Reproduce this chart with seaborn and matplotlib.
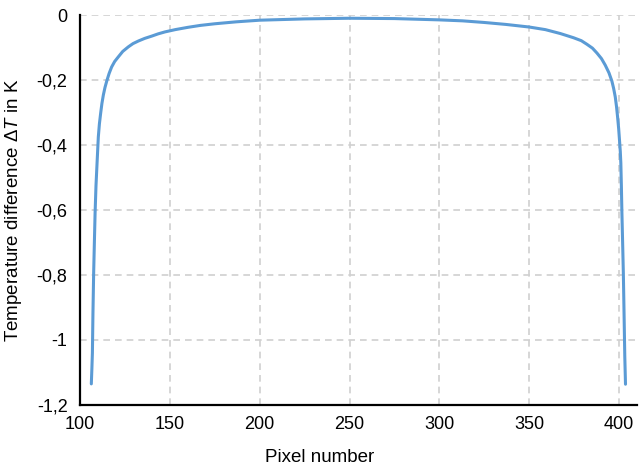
import matplotlib
matplotlib.use("Agg")
import matplotlib.pyplot as plt
import seaborn as sns
import pandas as pd
from matplotlib.ticker import FuncFormatter

# Data
pixel = [106.3, 106.6, 106.9, 107.2, 107.6, 108.0, 108.4, 108.9, 109.5, 110.2, 110.8,
         111.5, 112.2, 113.0, 113.9, 114.9, 116.2, 117.6, 119.3,
         121.3, 123.8, 126.9, 129.5, 132.5, 136.0, 139.9, 143.5, 147.3, 153, 160, 167, 175,
         187, 200, 225, 250,
         275, 300, 313, 325, 337, 350, 359, 367.3, 374.7, 379, 382.1, 385.2, 387.7, 390.2, 392.3,
         394.4, 396.0, 397.0, 397.9, 398.6, 399.2, 399.8, 400.3, 400.7, 401.0, 401.3, 401.6,
         402.0, 402.4, 402.8, 403.2, 403.6]
delta_t = [-1.135, -1.09, -1.04, -0.92, -0.794, -0.70, -0.609, -0.525, -0.455, -0.375, -0.335,
           -0.302, -0.272, -0.246, -0.223, -0.203, -0.180, -0.160, -0.143,
           -0.129, -0.112, -0.098, -0.088, -0.080, -0.072, -0.065, -0.058, -0.052, -0.045,
           -0.038, -0.032, -0.027,
           -0.021, -0.016, -0.012, -0.010,
           -0.011, -0.015, -0.018, -0.023, -0.029, -0.037, -0.045, -0.057, -0.070, -0.079,
           -0.090, -0.102, -0.117, -0.134, -0.154,
           -0.178, -0.203, -0.226, -0.252, -0.282, -0.314, -0.350, -0.388, -0.420, -0.455,
           -0.525, -0.609, -0.70, -0.794, -0.92, -1.05, -1.136]
x_ticks = [100, 150, 200, 250, 300, 350, 400]
y_ticks = [0, -0.2, -0.4, -0.6, -0.8, -1.0, -1.2]

sns.set_theme(style="white")
plt.rcParams['font.family'] = ['Liberation Sans', 'DejaVu Sans']
plt.rcParams['mathtext.fontset'] = 'custom'
plt.rcParams['mathtext.it'] = 'Liberation Sans:italic'
plt.rcParams['mathtext.rm'] = 'Liberation Sans'

fig = plt.figure(figsize=(6.43, 4.72), dpi=100)
ax = fig.add_axes([80/643, 67/472, 557/643, 390/472])

df = pd.DataFrame({"pixel": pixel, "dt": delta_t})
sns.lineplot(data=df, x="pixel", y="dt", sort=False, color="#5B9BD5",
             linewidth=2.2, ax=ax, zorder=3)

ax.set_xlim(100, 410)
ax.set_ylim(-1.2, 0)
ax.set_xticks(x_ticks)
ax.set_yticks(y_ticks)

def fmt(v, pos):
    s = f"{v:.1f}".rstrip('0').rstrip('.')
    if s == "-0":
        s = "0"
    return s.replace('.', ',')

ax.yaxis.set_major_formatter(FuncFormatter(fmt))
ax.tick_params(axis='both', length=0, labelsize=13, colors='black')
ax.tick_params(axis='y', pad=9)
ax.tick_params(axis='x', pad=8)

ax.grid(True, linestyle=(0, (4, 3)), color='#D0D0D0', linewidth=1.2)
for s in ['top', 'right']:
    ax.spines[s].set_visible(False)
for s in ['left', 'bottom']:
    ax.spines[s].set_color('black')
    ax.spines[s].set_linewidth(1.6)

ax.set_xlabel("Pixel number", fontsize=13.5, color='black')
ax.set_ylabel(r"Temperature difference $\mathit{\Delta T}$ in K", fontsize=13.5,
              color='black')
ax.xaxis.set_label_coords(0.431, -0.113)
ax.yaxis.set_label_coords(-0.101, 0.5)

fig.savefig("out.png", dpi=100)
